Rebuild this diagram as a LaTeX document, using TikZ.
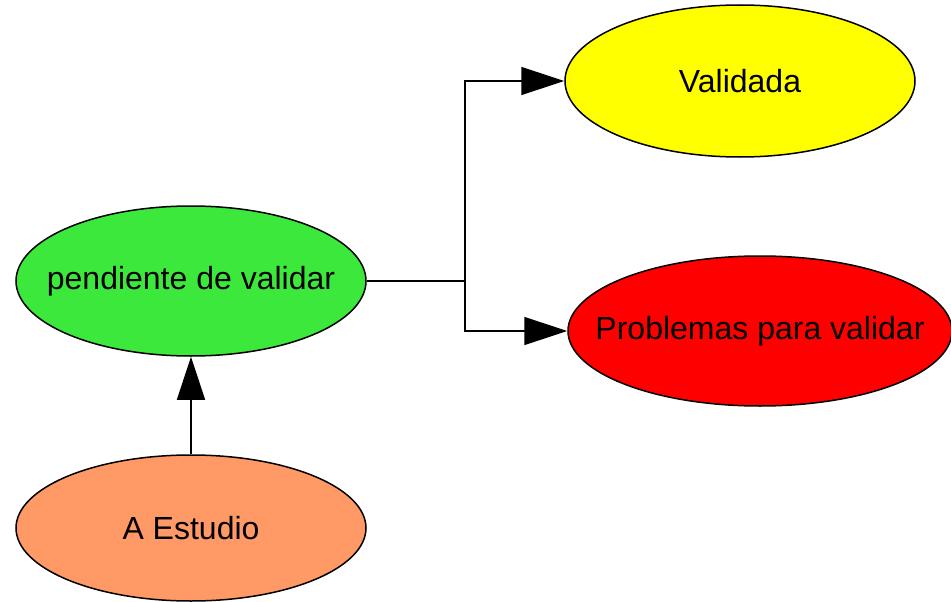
\documentclass[tikz,border=0pt]{standalone}
\usepackage{fontspec}
\setmainfont{Liberation Sans}
\usetikzlibrary{shapes.geometric,arrows.meta}
\definecolor{cval}{RGB}{255,255,0}
\definecolor{cpend}{RGB}{60,232,60}
\definecolor{cprob}{RGB}{255,0,0}
\definecolor{cest}{RGB}{255,153,102}
\begin{document}
\begin{tikzpicture}[x=1pt,y=-1pt,
  state/.style={ellipse,draw=black,line width=1.5pt,inner sep=0pt},
  lbl/.style={font=\fontsize{32}{38}\selectfont,text=black,inner sep=0pt},
  conn/.style={line width=1.5pt,draw=black},
  arr/.style={conn,-{Triangle[length=43pt,width=28pt]}}]
\useasboundingbox (0,0) rectangle (951,602);
\node[state,fill=cval,minimum width=350pt,minimum height=152pt,
  label={[lbl]center:Validada}] (val) at (740,81) {};
\node[state,fill=cpend,minimum width=350pt,minimum height=150pt,
  label={[lbl]center:pendiente de validar}] (pend) at (191,281) {};
\node[state,fill=cprob,minimum width=384pt,minimum height=150pt,
  label={[lbl]center:Problemas para validar}] (prob) at (760,331) {};
\node[state,fill=cest,minimum width=350pt,minimum height=146pt,
  label={[lbl]center:A Estudio}] (est) at (191,528) {};
\coordinate (j) at (465,281);
\draw[conn] (pend.east) -- (j);
\draw[arr] (j) |- (val.west);
\draw[arr] (j) |- (prob.west);
\draw[arr] (est.north) -- (pend.south);
\end{tikzpicture}
\end{document}
